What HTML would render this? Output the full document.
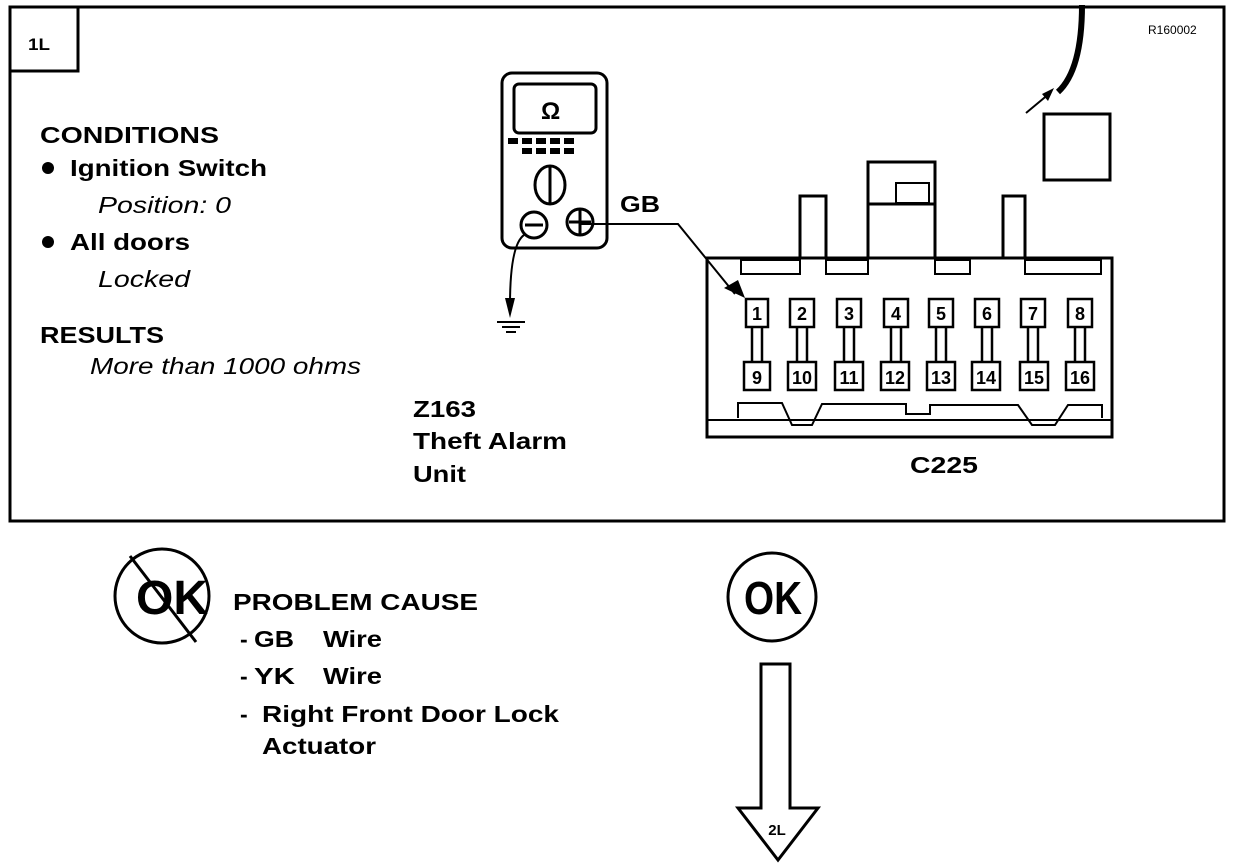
<!DOCTYPE html>
<html><head><meta charset="utf-8"><style>
html,body{margin:0;padding:0;background:#fff;}
svg{display:block;}
text{font-family:"Liberation Sans",Arial,sans-serif;font-weight:bold;fill:#000;}
.i{font-style:italic;font-weight:normal;}
</style></head><body>
<svg width="1248" height="868" viewBox="0 0 1248 868" xmlns="http://www.w3.org/2000/svg">
<g fill="none" stroke="#000" stroke-width="3">
<rect x="10" y="7" width="1214" height="514"/>
<rect x="10" y="7" width="68" height="64"/>
</g>
<text x="28" y="50" font-size="17" textLength="22" lengthAdjust="spacingAndGlyphs">1L</text>
<text x="1148" y="34" font-size="12" style="font-weight:normal">R160002</text>

<text x="40" y="143" font-size="23" textLength="179" lengthAdjust="spacingAndGlyphs">CONDITIONS</text>
<circle cx="48" cy="168" r="6"/>
<text x="70" y="176" font-size="23" textLength="197" lengthAdjust="spacingAndGlyphs">Ignition Switch</text>
<text x="98" y="213" font-size="23" class="i" textLength="133" lengthAdjust="spacingAndGlyphs">Position: 0</text>
<circle cx="48" cy="242" r="6"/>
<text x="70" y="250" font-size="23" textLength="120" lengthAdjust="spacingAndGlyphs">All doors</text>
<text x="98" y="287" font-size="23" class="i" textLength="92" lengthAdjust="spacingAndGlyphs">Locked</text>
<text x="40" y="343" font-size="23" textLength="124" lengthAdjust="spacingAndGlyphs">RESULTS</text>
<text x="90" y="374" font-size="23" class="i" textLength="271" lengthAdjust="spacingAndGlyphs">More than 1000 ohms</text>

<text x="413" y="417" font-size="23" textLength="63" lengthAdjust="spacingAndGlyphs">Z163</text>
<text x="413" y="449" font-size="23" textLength="154" lengthAdjust="spacingAndGlyphs">Theft Alarm</text>
<text x="413" y="482" font-size="23" textLength="53" lengthAdjust="spacingAndGlyphs">Unit</text>
<text x="910" y="473" font-size="23" textLength="68" lengthAdjust="spacingAndGlyphs">C225</text>
<text x="620" y="212" font-size="23" textLength="40" lengthAdjust="spacingAndGlyphs">GB</text>

<!-- multimeter -->
<g fill="none" stroke="#000" stroke-width="3">
<rect x="502" y="73" width="105" height="175" rx="10"/>
<rect x="514" y="84" width="82" height="49" rx="5"/>
<ellipse cx="550" cy="185" rx="15" ry="19"/>
<line x1="550" y1="167" x2="550" y2="203"/>
<circle cx="534" cy="225" r="13"/>
<line x1="525" y1="225" x2="543" y2="225"/>
<circle cx="580" cy="222" r="13"/>
<line x1="569" y1="222" x2="591" y2="222"/>
<line x1="580" y1="210" x2="580" y2="234"/>
</g>
<text x="541" y="119" font-size="24">Ω</text>
<g fill="#000">
<rect x="508" y="138" width="10" height="6"/><rect x="522" y="138" width="10" height="6"/><rect x="536" y="138" width="10" height="6"/><rect x="550" y="138" width="10" height="6"/><rect x="564" y="138" width="10" height="6"/>
<rect x="522" y="148" width="10" height="6"/><rect x="536" y="148" width="10" height="6"/><rect x="550" y="148" width="10" height="6"/><rect x="564" y="148" width="10" height="6"/>
</g>
<g fill="none" stroke="#000" stroke-width="2">
<path d="M524 235 Q510 245 510 305"/>
<polyline points="580,224 678,224 735,294"/>
<line x1="497" y1="322" x2="525" y2="322"/>
<line x1="502" y1="327" x2="520" y2="327"/>
<line x1="506" y1="332" x2="516" y2="332"/>
</g>
<polygon points="505,298 515,298 510,318" fill="#000"/>
<polygon points="724,288 738,280 745,298" fill="#000"/>

<!-- top right -->
<path d="M1082 5 Q1082 70 1058 92" fill="none" stroke="#000" stroke-width="6"/>
<line x1="1026" y1="113" x2="1050" y2="93" stroke="#000" stroke-width="2"/>
<polygon points="1054,88 1042,94 1048,101" fill="#000"/>
<rect x="1044" y="114" width="66" height="66" fill="none" stroke="#000" stroke-width="3"/>

<!-- connector -->
<g fill="none" stroke="#000" stroke-width="3">
<rect x="707" y="258" width="405" height="179"/>
<path d="M800 258 V196 H826 V258"/>
<path d="M1003 258 V196 H1025 V258"/>
<path d="M868 258 V162 H935 V258"/>
<line x1="868" y1="204" x2="935" y2="204"/>
<rect x="896" y="183" width="33" height="20" stroke-width="2"/>
</g>
<g fill="none" stroke="#000" stroke-width="2">
<rect x="741" y="260" width="59" height="14"/>
<rect x="826" y="260" width="42" height="14"/>
<rect x="935" y="260" width="35" height="14"/>
<rect x="1025" y="260" width="76" height="14"/>
<line x1="707" y1="420" x2="1112" y2="420"/>
<path d="M738 418 V403 H782 L792 425 H812 L822 404 H906 V414 H930 V405 H1018 L1032 425 H1055 L1068 405 H1102 V418"/>
</g>
<g font-size="18" text-anchor="middle">
<g fill="none" stroke="#000" stroke-width="2.5">
<rect x="746" y="299" width="22" height="28"/><rect x="790" y="299" width="24" height="28"/><rect x="837" y="299" width="24" height="28"/><rect x="884" y="299" width="24" height="28"/><rect x="929" y="299" width="24" height="28"/><rect x="975" y="299" width="24" height="28"/><rect x="1021" y="299" width="24" height="28"/><rect x="1068" y="299" width="24" height="28"/>
<rect x="744" y="362" width="26" height="28"/><rect x="788" y="362" width="28" height="28"/><rect x="835" y="362" width="28" height="28"/><rect x="881" y="362" width="28" height="28"/><rect x="927" y="362" width="28" height="28"/><rect x="972" y="362" width="28" height="28"/><rect x="1020" y="362" width="28" height="28"/><rect x="1066" y="362" width="28" height="28"/>
<path d="M752 327V362M762 327V362M797 327V362M807 327V362M844 327V362M854 327V362M891 327V362M901 327V362M936 327V362M946 327V362M982 327V362M992 327V362M1028 327V362M1038 327V362M1075 327V362M1085 327V362"/>
</g>
<text x="757" y="320">1</text><text x="802" y="320">2</text><text x="849" y="320">3</text><text x="896" y="320">4</text><text x="941" y="320">5</text><text x="987" y="320">6</text><text x="1033" y="320">7</text><text x="1080" y="320">8</text>
<text x="757" y="384">9</text><text x="802" y="384">10</text><text x="849" y="384">11</text><text x="895" y="384">12</text><text x="941" y="384">13</text><text x="986" y="384">14</text><text x="1034" y="384">15</text><text x="1080" y="384">16</text>
</g>

<!-- bottom -->
<circle cx="162" cy="596" r="47" fill="none" stroke="#000" stroke-width="3"/>
<line x1="130" y1="556" x2="196" y2="642" stroke="#000" stroke-width="3"/>
<text x="136" y="614" font-size="48" textLength="72" lengthAdjust="spacingAndGlyphs">OK</text>
<circle cx="772" cy="597" r="44" fill="none" stroke="#000" stroke-width="3"/>
<text x="744" y="614" font-size="46" textLength="58" lengthAdjust="spacingAndGlyphs">OK</text>

<text x="233" y="610" font-size="23" textLength="245" lengthAdjust="spacingAndGlyphs">PROBLEM CAUSE</text>
<text x="240" y="647" font-size="23">-</text>
<text x="254" y="647" font-size="23" textLength="40" lengthAdjust="spacingAndGlyphs">GB</text>
<text x="323" y="647" font-size="23" textLength="59" lengthAdjust="spacingAndGlyphs">Wire</text>
<text x="240" y="684" font-size="23">-</text>
<text x="254" y="684" font-size="23" textLength="41" lengthAdjust="spacingAndGlyphs">YK</text>
<text x="323" y="684" font-size="23" textLength="59" lengthAdjust="spacingAndGlyphs">Wire</text>
<text x="240" y="722" font-size="23">-</text>
<text x="262" y="722" font-size="23" textLength="297" lengthAdjust="spacingAndGlyphs">Right Front Door Lock</text>
<text x="262" y="754" font-size="23" textLength="114" lengthAdjust="spacingAndGlyphs">Actuator</text>

<path d="M761 664 H790 V808 H818 L778 860 L738 808 H761 Z" fill="none" stroke="#000" stroke-width="3"/>
<text x="777" y="835" font-size="15" text-anchor="middle">2L</text>
</svg>
</body></html>
